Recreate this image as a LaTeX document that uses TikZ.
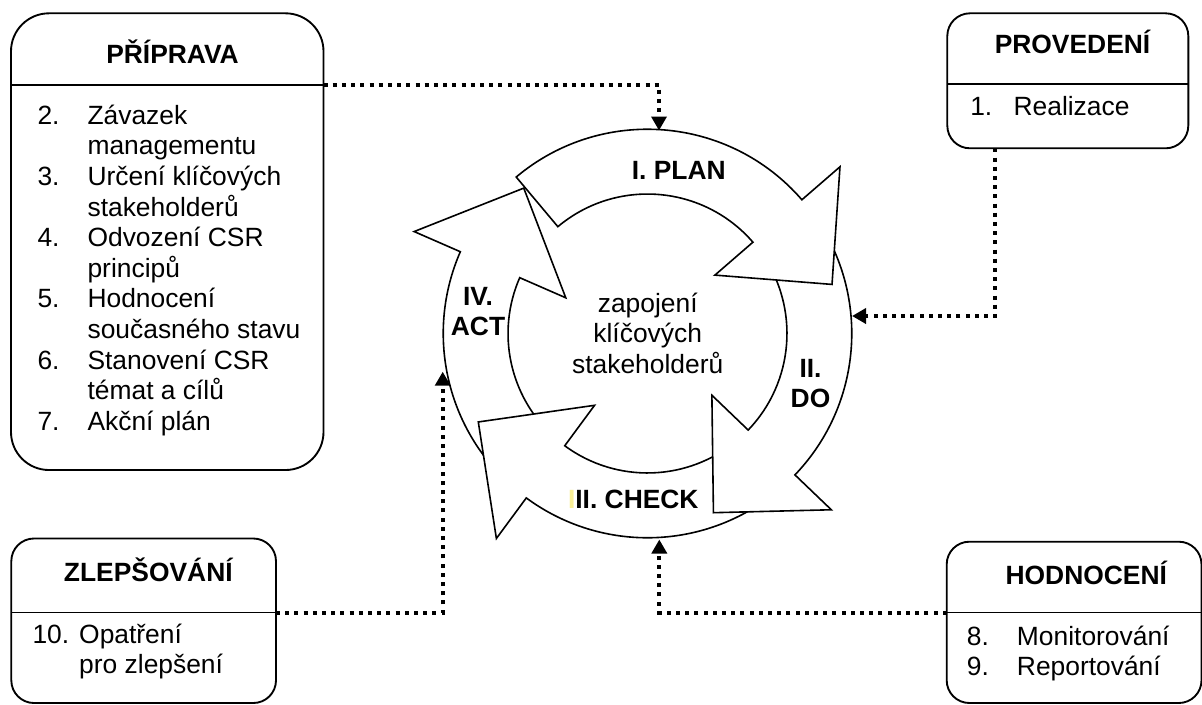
\documentclass[tikz,border=0pt]{standalone}
\usepackage{fontspec}
\setmainfont{Liberation Sans}
\usetikzlibrary{arrows.meta,fit}

\definecolor{hlyellow}{RGB}{248,238,150}

% radii of the PDCA ring (outer band, inner band, barb ends, arrow point)
\newcommand{\Rout}{153.2pt}
\newcommand{\Rin}{104.6pt}
\newcommand{\Rbo}{191pt}
\newcommand{\Rbi}{66.9pt}
\newcommand{\Rtip}{143.2pt}

% one curved arrow of the ring: #1 = tail angle, #2 = angle of the head base
\newcommand{\RingArrow}[2]{%
  \draw[ring] (#1:\Rout) arc[start angle=#1, end angle=#2, radius=\Rout]
    -- (#2:\Rbo) -- ({#2-26}:\Rtip) -- (#2:\Rbi) -- (#2:\Rin)
    arc[start angle=#2, end angle=#1, radius=\Rin] -- cycle;}

\tikzset{
  ring/.style={draw=black, fill=white, line width=1.2pt, line join=miter},
  panel/.style={draw=black, line width=1.4pt, rounded corners=17pt, inner sep=0pt},
  divider/.style={line width=1.2pt},
  link/.style={line width=3pt, dash pattern=on 3pt off 3.9pt,
    -{Triangle[width=11.25pt,length=10.5pt]}},
  txt/.style={font=\fontsize{19.8}{22.95}\selectfont, inner sep=0pt},
  head/.style={font=\fontsize{19.8}{22.95}\selectfont\bfseries, inner sep=0pt},
}

\begin{document}
\begin{tikzpicture}[x=0.75pt, y=0.75pt]
\useasboundingbox (0,0) rectangle (1202,-704);

% ---------- PDCA ring ----------
\coordinate (C) at (647.5,-333.5);
\begin{scope}[shift={(C)}]
  \RingArrow{227.6}{156.4}   % ACT
  \RingArrow{-49.8}{-126.4}  % CHECK
  \RingArrow{35}{-43.8}      % DO
  \RingArrow{130}{40.9}      % PLAN
\end{scope}

\node[head, anchor=base] (planL) at (678.7,-179) {I. PLAN};
\node[head, anchor=base] (doL) at (810.5,-377.3)
  {\begin{tabular}[t]{@{}c@{}}II.\\DO\end{tabular}};
\node[head, anchor=base] (checkL) at (633.3,-508.3)
  {{\color{hlyellow}I}II. CHECK};
\node[head, anchor=base] (actL) at (478,-305)
  {\begin{tabular}[t]{@{}c@{}}IV.\\ACT\end{tabular}};
\node[txt, anchor=base] (core) at (647.7,-312.3)
  {\begin{tabular}[t]{@{}c@{}}zapojení\\klíčových\\stakeholderů\end{tabular}};

% ---------- phase panels ----------
\node[panel, rounded corners=28.5pt, fit={(11,-13.3) (323.5,-470)}] (prip) {};
\node[panel, fit={(947.3,-13.3) (1188.3,-148.3)}] (prov) {};
\node[panel, fit={(11.3,-538.5) (276,-703)}] (zlep) {};
\node[panel, fit={(946.7,-541.7) (1201.5,-703)}] (hodn) {};

\coordinate (pripL) at (11,-84.7);     \coordinate (pripR) at (323.5,-84.7);
\coordinate (provL) at (947.3,-84);    \coordinate (provR) at (1188.3,-84);
\coordinate (zlepL) at (11.3,-612.5);  \coordinate (zlepR) at (276,-612.5);
\coordinate (hodnL) at (946.7,-612.5); \coordinate (hodnR) at (1201.5,-612.5);
\draw[divider] (pripL) -- (pripR);
\draw[divider] (provL) -- (provR);
\draw[divider] (zlepL) -- (zlepR);
\draw[divider] (hodnL) -- (hodnR);

\node[head, anchor=base] (pripT) at (172.5,-63.3) {PŘÍPRAVA};
\node[head, anchor=base] (provT) at (1072.5,-53.3) {PROVEDENÍ};
\node[head, anchor=base] (zlepT) at (148.3,-581.7) {ZLEPŠOVÁNÍ};
\node[head, anchor=base] (hodnT) at (1086.3,-584) {HODNOCENÍ};

\node[txt, anchor=base west] (pripList) at (37.3,-124.3)
  {\begin{tabular}[t]{@{}p{37.5pt}@{}l@{}}
    2.&Závazek\\
    &managementu\\
    3.&Určení klíčových\\
    &stakeholderů\\
    4.&Odvození CSR\\
    &principů\\
    5.&Hodnocení\\
    &současného stavu\\
    6.&Stanovení CSR\\
    &témat a cílů\\
    7.&Akční plán
  \end{tabular}};
\node[txt, anchor=base west] (provList) at (970,-115)
  {\begin{tabular}[t]{@{}p{32.5pt}@{}l@{}}1.&Realizace\end{tabular}};
\node[txt, anchor=base west] (zlepList) at (32.3,-643)
  {\begin{tabular}[t]{@{}p{35pt}@{}l@{}}10.&Opatření\\&pro zlepšení\end{tabular}};
\node[txt, anchor=base west] (hodnList) at (966.7,-645)
  {\begin{tabular}[t]{@{}p{37.5pt}@{}l@{}}8.&Monitorování\\9.&Reportování\end{tabular}};

% ---------- dotted links into the ring ----------
\coordinate (planIn) at (659,-130.5);
\coordinate (provOut) at (995,-148.3);
\coordinate (doIn) at (852,-316);
\coordinate (actIn) at (442.7,-371.7);
\coordinate (checkIn) at (659.3,-539.5);

\draw[link] (pripR) -| (planIn);
\draw[link] (provOut) |- (doIn);
\draw[link] (zlepR) -| (actIn);
\draw[link] (hodnL) -| (checkIn);
\end{tikzpicture}
\end{document}
